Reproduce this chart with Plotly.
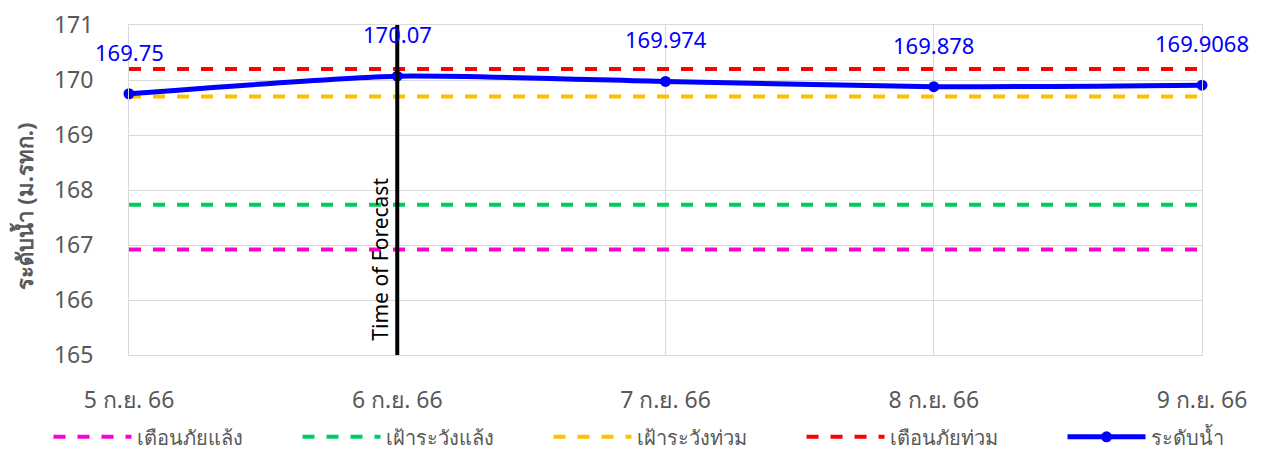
import plotly.graph_objects as go

categories = ["5 ก.ย. 66", "6 ก.ย. 66", "7 ก.ย. 66", "8 ก.ย. 66", "9 ก.ย. 66"]
water_level = [169.75, 170.07, 169.974, 169.878, 169.9068]
water_labels = ["169.75", "170.07", "169.974", "169.878", "169.9068"]
drought_warning = [166.92] * 5      # เตือนภัยแล้ง
drought_watch = [167.73] * 5        # เฝ้าระวังแล้ง
flood_watch = [169.70] * 5          # เฝ้าระวังท่วม
flood_warning = [170.20] * 5        # เตือนภัยท่วม
forecast_category = "6 ก.ย. 66"
y_ticks = [165, 166, 167, 168, 169, 170, 171]
y_title = "ระดับน้ำ (ม.รทก.)"

xs = list(range(len(categories)))
FONT = "Noto Sans, DejaVu Sans, sans-serif"
EN = "\u2002"  # invisible spacing after legend names (legend item gaps)

fig = go.Figure()
ref_series = [
    ("เตือนภัยแล้ง", drought_warning, "#FF00CC", 5),
    ("เฝ้าระวังแล้ง", drought_watch, "#00CC66", 5),
    ("เฝ้าระวังท่วม", flood_watch, "#FFC000", 5),
    ("เตือนภัยท่วม", flood_warning, "#FF0000", 6),
]
for name, vals, col, pad in ref_series:
    fig.add_trace(go.Scatter(x=xs, y=vals, mode="lines", name=name + EN * pad,
                             line=dict(color=col, width=4, dash="dash"),
                             hoverinfo="skip"))

fig.add_trace(go.Scatter(x=xs, y=water_level, mode="lines+markers", name="ระดับน้ำ",
                         line=dict(color="#0000FF", width=5, shape="spline", smoothing=0.6),
                         marker=dict(color="#0000FF", size=11),
                         cliponaxis=False))

for xv, yv, lab in zip(xs, water_level, water_labels):
    fig.add_annotation(x=xv, y=yv, xref="x", yref="y", text=lab, showarrow=False,
                       yshift=42, yanchor="middle", xanchor="center",
                       font=dict(color="#0000FF", size=22, family=FONT))

fx = categories.index(forecast_category)
fig.add_vline(x=fx, line=dict(color="black", width=4), layer="above")
fig.add_annotation(x=fx, xref="x", y=165.22, yref="y", text="Time of Forecast",
                   textangle=-90, showarrow=False, xanchor="right", yanchor="bottom",
                   xshift=-1, font=dict(size=21, color="#000000", family=FONT))

# y-axis title placed as an annotation to match the reference's offset
fig.add_annotation(x=0, xref="paper", xshift=-106, y=0.45, yref="paper",
                   text="<b>" + y_title + "</b>", textangle=-90, showarrow=False,
                   xanchor="center", yanchor="middle",
                   font=dict(size=22, color="#595959", family=FONT))

fig.update_layout(
    width=1262, height=452,
    margin=dict(l=129, r=60, t=25, b=97, autoexpand=False),
    plot_bgcolor="white", paper_bgcolor="white",
    font=dict(family=FONT, color="#595959"),
    showlegend=True,
    legend=dict(orientation="h", x=-0.075, xanchor="left", y=-0.248, yanchor="middle",
                font=dict(size=20, color="#595959"),
                itemwidth=78, bgcolor="rgba(0,0,0,0)"),
    xaxis=dict(tickvals=xs, ticktext=categories, range=[0, len(categories) - 1],
               showgrid=True, gridcolor="#D9D9D9", gridwidth=1,
               showline=True, linecolor="#D9D9D9", mirror=True, ticklabelstandoff=24,
               tickfont=dict(size=23, color="#595959"), ticks="", zeroline=False),
    yaxis=dict(range=[165, 171], tickvals=y_ticks, showgrid=True, gridcolor="#D9D9D9",
               showline=True, linecolor="#D9D9D9", mirror=True, zeroline=False,
               ticklabelstandoff=30,
               tickfont=dict(size=23, color="#595959"), ticks=""),
)

fig.write_html("out.html", config={"displayModeBar": False})
with open("out.html", "r", encoding="utf-8") as f:
    html = f.read()
html = html.replace("<head>", "<head><style>html,body{margin:0;padding:0;}</style>", 1)
with open("out.html", "w", encoding="utf-8") as f:
    f.write(html)
